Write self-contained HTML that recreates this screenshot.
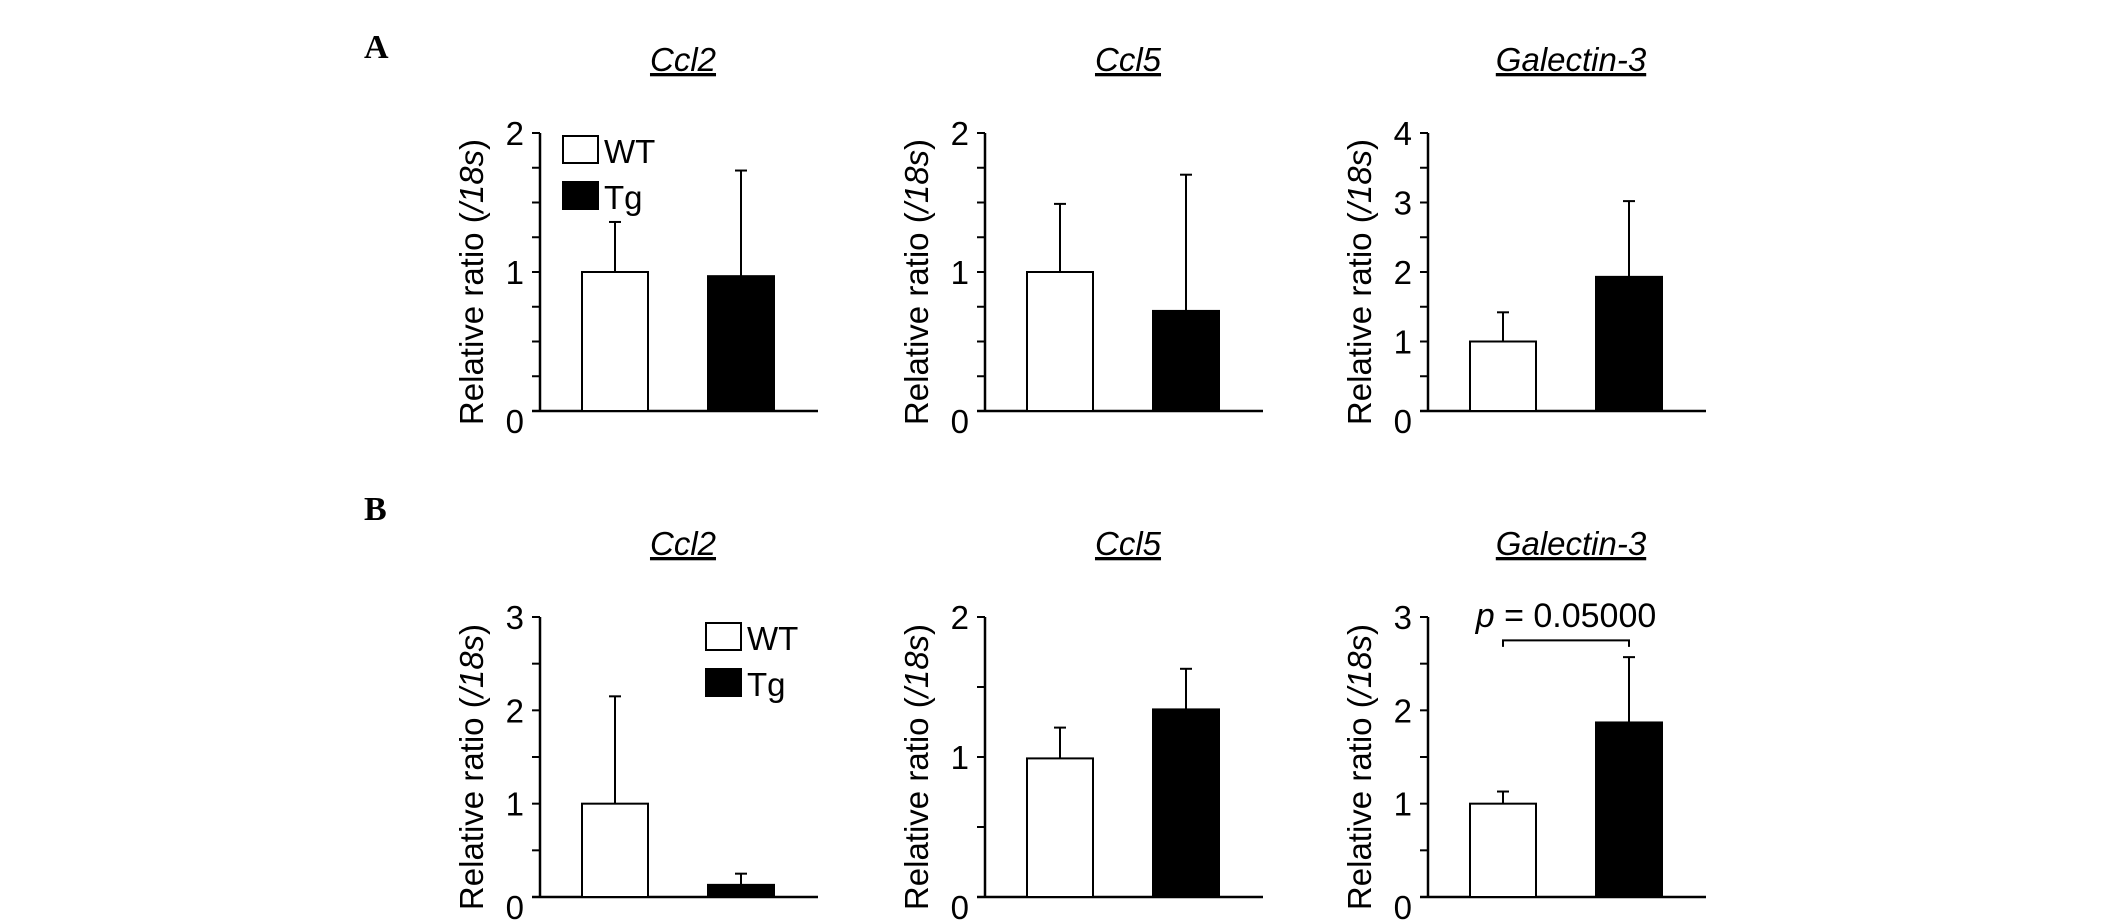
<!DOCTYPE html>
<html><head><meta charset="utf-8"><style>
html,body{margin:0;padding:0;background:#fff;}
svg{display:block;font-family:"Liberation Sans",sans-serif;}
</style></head><body>
<svg id="fig" width="2126" height="922" viewBox="0 0 2126 922">
<text x="364" y="58" font-family="Liberation Serif" font-weight="bold" font-size="34">A</text>
<text x="364" y="520" font-family="Liberation Serif" font-weight="bold" font-size="34">B</text>
</svg>
<script>
const titles = ["Ccl2","Ccl5","Galectin-3","Ccl2","Ccl5","Galectin-3"];
const yMax = [2,2,4,3,2,3];
const minorStep = [0.25,0.25,0.5,0.5,0.5,0.5];
const wtValues = [1.0,1.0,1.0,1.0,0.99,1.0];
const wtErrTop = [1.36,1.49,1.42,2.15,1.21,1.13];
const tgValues = [0.97,0.72,1.93,0.13,1.34,1.87];
const tgErrTop = [1.73,1.70,3.02,0.25,1.63,2.57];
const pLabel = "0.05000";

const NS="http://www.w3.org/2000/svg";
const svg=document.getElementById('fig');
function mk(tag,attrs,parent){const e=document.createElementNS(NS,tag);for(const k in attrs)e.setAttribute(k,attrs[k]);(parent||svg).appendChild(e);return e;}
const axX=[540,985,1428];
const rows=[{top:133,bot:411},{top:617,bot:897}];
for(let i=0;i<6;i++){
  const r=rows[Math.floor(i/3)], ax=axX[i%3];
  const g=mk('g',{});
  
  
  const y=v=>r.bot-(v/yMax[i])*(r.bot-r.top);
  const t=mk('text',{x:ax+143,y:r.top-62,'text-anchor':'middle','font-size':33,'font-style':'italic','text-decoration':'underline'},g);
  t.textContent=titles[i];
  
  
  const yl=mk('text',{x:0,y:0,'text-anchor':'middle','font-size':33,transform:`translate(${ax-57},${(r.top+r.bot)/2+10}) rotate(-90)`},g);
  yl.innerHTML='Relative ratio (<tspan font-style="italic">/18s</tspan>)';
  
  
  const yaxis=mk('line',{x1:ax,y1:r.top,x2:ax,y2:r.bot,stroke:'#000','stroke-width':2.5},g);
  
  
  const xaxis=mk('line',{x1:ax-8,y1:r.bot,x2:ax+278,y2:r.bot,stroke:'#000','stroke-width':2.5},g);
  
  
  for(let v=0;v<=yMax[i]+1e-9;v+=minorStep[i]){
    const tk=mk('line',{x1:ax-8,y1:y(v),x2:ax,y2:y(v),stroke:'#000','stroke-width':2},g);
    
    
  }
  for(let v=0;v<=yMax[i];v++){
    const tl=mk('text',{x:ax-16,y:y(v)+(v===0?22:12),'text-anchor':'end','font-size':33},g);
    tl.textContent=v;
    
    
  }
  const bars=[[wtValues[i],wtErrTop[i],42,'#fff','wt'],[tgValues[i],tgErrTop[i],168,'#000','tg']];
  bars.forEach(b=>{
    const cx=ax+b[2]+33;
    const el=mk('line',{x1:cx,y1:y(b[1]),x2:cx,y2:y(b[0]),stroke:'#000','stroke-width':2},g);
    
    
    const cap=mk('line',{x1:cx-6,y1:y(b[1]),x2:cx+6,y2:y(b[1]),stroke:'#000','stroke-width':2},g);
    
    
    const rc=mk('rect',{x:ax+b[2],y:y(b[0]),width:66,height:r.bot-y(b[0]),fill:b[3],stroke:'#000','stroke-width':2},g);
    
    
  });
  if(i===0||i===3){
    const lx=i===0?563:706, ly=i===0?136:623;
    [['WT','#fff',0],['Tg','#000',46]].forEach(L=>{
      const lg=mk('g',{},g);
      
      
      mk('rect',{x:lx,y:ly+L[2],width:35,height:27,fill:L[1],stroke:'#000','stroke-width':2},lg);
      const lt=mk('text',{x:lx+41,y:ly+L[2]+27,'font-size':33},lg);
      lt.textContent=L[0];
    });
  }
  if(i===5){
    const pg=mk('g',{},g);
    
    
    const x1=ax+42+33, x2=ax+168+33;
    mk('path',{d:`M${x1} ${y(2.68)} V${y(2.75)} H${x2} V${y(2.68)}`,fill:'none',stroke:'#000','stroke-width':2},pg);
    const pt=mk('text',{x:(x1+x2)/2,y:r.top+10,'text-anchor':'middle','font-size':34},pg);
    pt.innerHTML='<tspan font-style="italic">p</tspan> = '+pLabel;
  }
}
</script>
</body></html>
